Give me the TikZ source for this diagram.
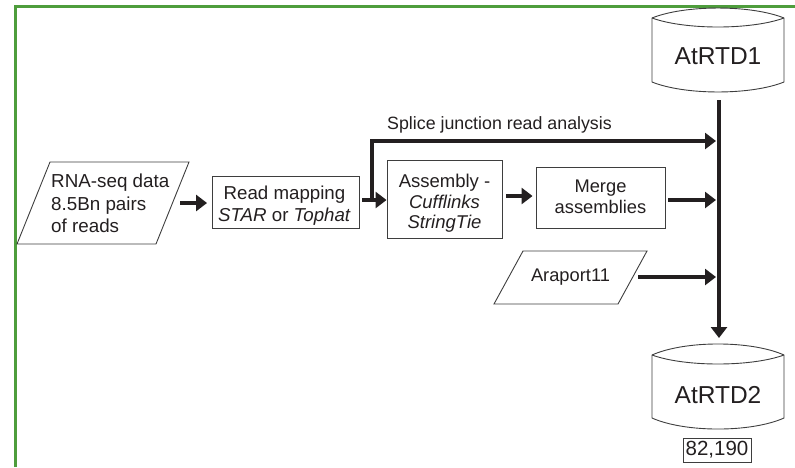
\documentclass[tikz,border=0pt]{standalone}
\usepackage{fontspec}
\setmainfont{Liberation Sans}
\usetikzlibrary{arrows.meta}
\definecolor{framegreen}{RGB}{78,157,60}
\definecolor{ink}{RGB}{35,31,32}
\definecolor{edgegray}{RGB}{62,62,62}
\begin{document}
\begin{tikzpicture}[x=1pt,y=-1pt,
  shp/.style={draw=edgegray, line width=0.9pt, line join=miter},
  boxnode/.style={shp, inner sep=0pt},
  txt/.style={text=ink, inner sep=0pt, align=center, font=\fontsize{18.5}{21.5}\selectfont},
  bigtxt/.style={text=ink, inner sep=0pt, font=\fontsize{24.5}{28}\selectfont},
  arr/.style={draw=ink, line width=3.3pt, -{Triangle[length=11pt,width=16pt]}},
]
\useasboundingbox (0,0) rectangle (795,467);

% green frame
\draw[framegreen, line width=3pt, line join=miter] (15.5,467) -- (15.5,6.5) -- (795,6.5);

% input data parallelogram
\draw[shp] (17,244) -- (50,162) -- (189,162) -- (156,244) -- cycle;
\node[txt, align=left, anchor=west, font=\fontsize{18.8}{22.3}\selectfont] (rna) at (51,203.5)
  {RNA-seq data\\8.5Bn pairs\\of reads};

% read mapping
\node[boxnode, minimum width=147pt, minimum height=52pt] (map) at (285.5,202) {};
\node[txt, font=\fontsize{18.7}{21.5}\selectfont] (maptxt) at (284.5,205.5) {Read mapping\\\textit{STAR} or \textit{Tophat}};

% assembly
\node[boxnode, minimum width=115pt, minimum height=78pt] (asm) at (444.5,199) {};
\node[txt, font=\fontsize{18.5}{20.5}\selectfont] (asmtxt) at (444.5,203.5)
  {Assembly -\\\textit{Cufflinks}\\\textit{StringTie}};

% merge
\node[boxnode, minimum width=129pt, minimum height=61pt] (mrg) at (600.5,197.5) {};
\node[txt, font=\fontsize{18.3}{20.5}\selectfont] (mrgtxt) at (600.5,197) {Merge\\assemblies};

% Araport11
\draw[shp] (494,304) -- (523,251) -- (647,251) -- (618,304) -- cycle;
\node[txt, font=\fontsize{18.3}{21}\selectfont] (ara) at (570.5,277) {Araport11};

% splice junction label
\node[txt, anchor=base west, font=\fontsize{17.8}{21}\selectfont] (spltxt) at (387,129) {Splice junction read analysis};

% AtRTD1 cylinder
\draw[shp] (652,18) .. controls (685,4.7) and (751,4.7) .. (784,18) -- (784,82)
  .. controls (751,95.3) and (685,95.3) .. (652,82) -- cycle;
\draw[shp] (652,18) .. controls (685,30) and (751,30) .. (784,18);
\node[bigtxt] (db1) at (718,56.5) {AtRTD1};

% AtRTD2 cylinder
\draw[shp] (652,355) .. controls (685,340.3) and (751,340.3) .. (784,355) -- (784,418)
  .. controls (751,432.7) and (685,432.7) .. (652,418) -- cycle;
\draw[shp] (652,355) .. controls (685,367) and (751,367) .. (784,355);
\node[bigtxt] (db2) at (718,395) {AtRTD2};

% count
\node[boxnode, text=ink, minimum width=68pt, minimum height=24pt, font=\fontsize{20.5}{24}\selectfont] (cnt) at (717,450) {82,190};

% connectors
\coordinate (rnaout) at (180,203);
\coordinate (jn) at (372,200);
\coordinate (sj) at (716,141);
\coordinate (mrgout) at (668,200);
\coordinate (araout) at (638,277);
\coordinate (bustop) at (719,100);
\coordinate (busend) at (719,338);

\draw[arr] (rnaout) -- ([xshift=-4.5pt]map.west |- rnaout);
\draw[arr] ([xshift=3pt]map.east |- jn) -- (asm.west |- jn);
\draw[arr] (jn) |- (sj);
\draw[arr] ([xshift=4pt]asm.east |- 0,196) -- ([xshift=-3pt]mrg.west |- 0,196);
\draw[arr] (mrgout) -- (mrgout -| sj);
\draw[arr] (araout) -- (araout -| sj);
\draw[arr] (bustop) -- (busend);
\end{tikzpicture}
\end{document}
